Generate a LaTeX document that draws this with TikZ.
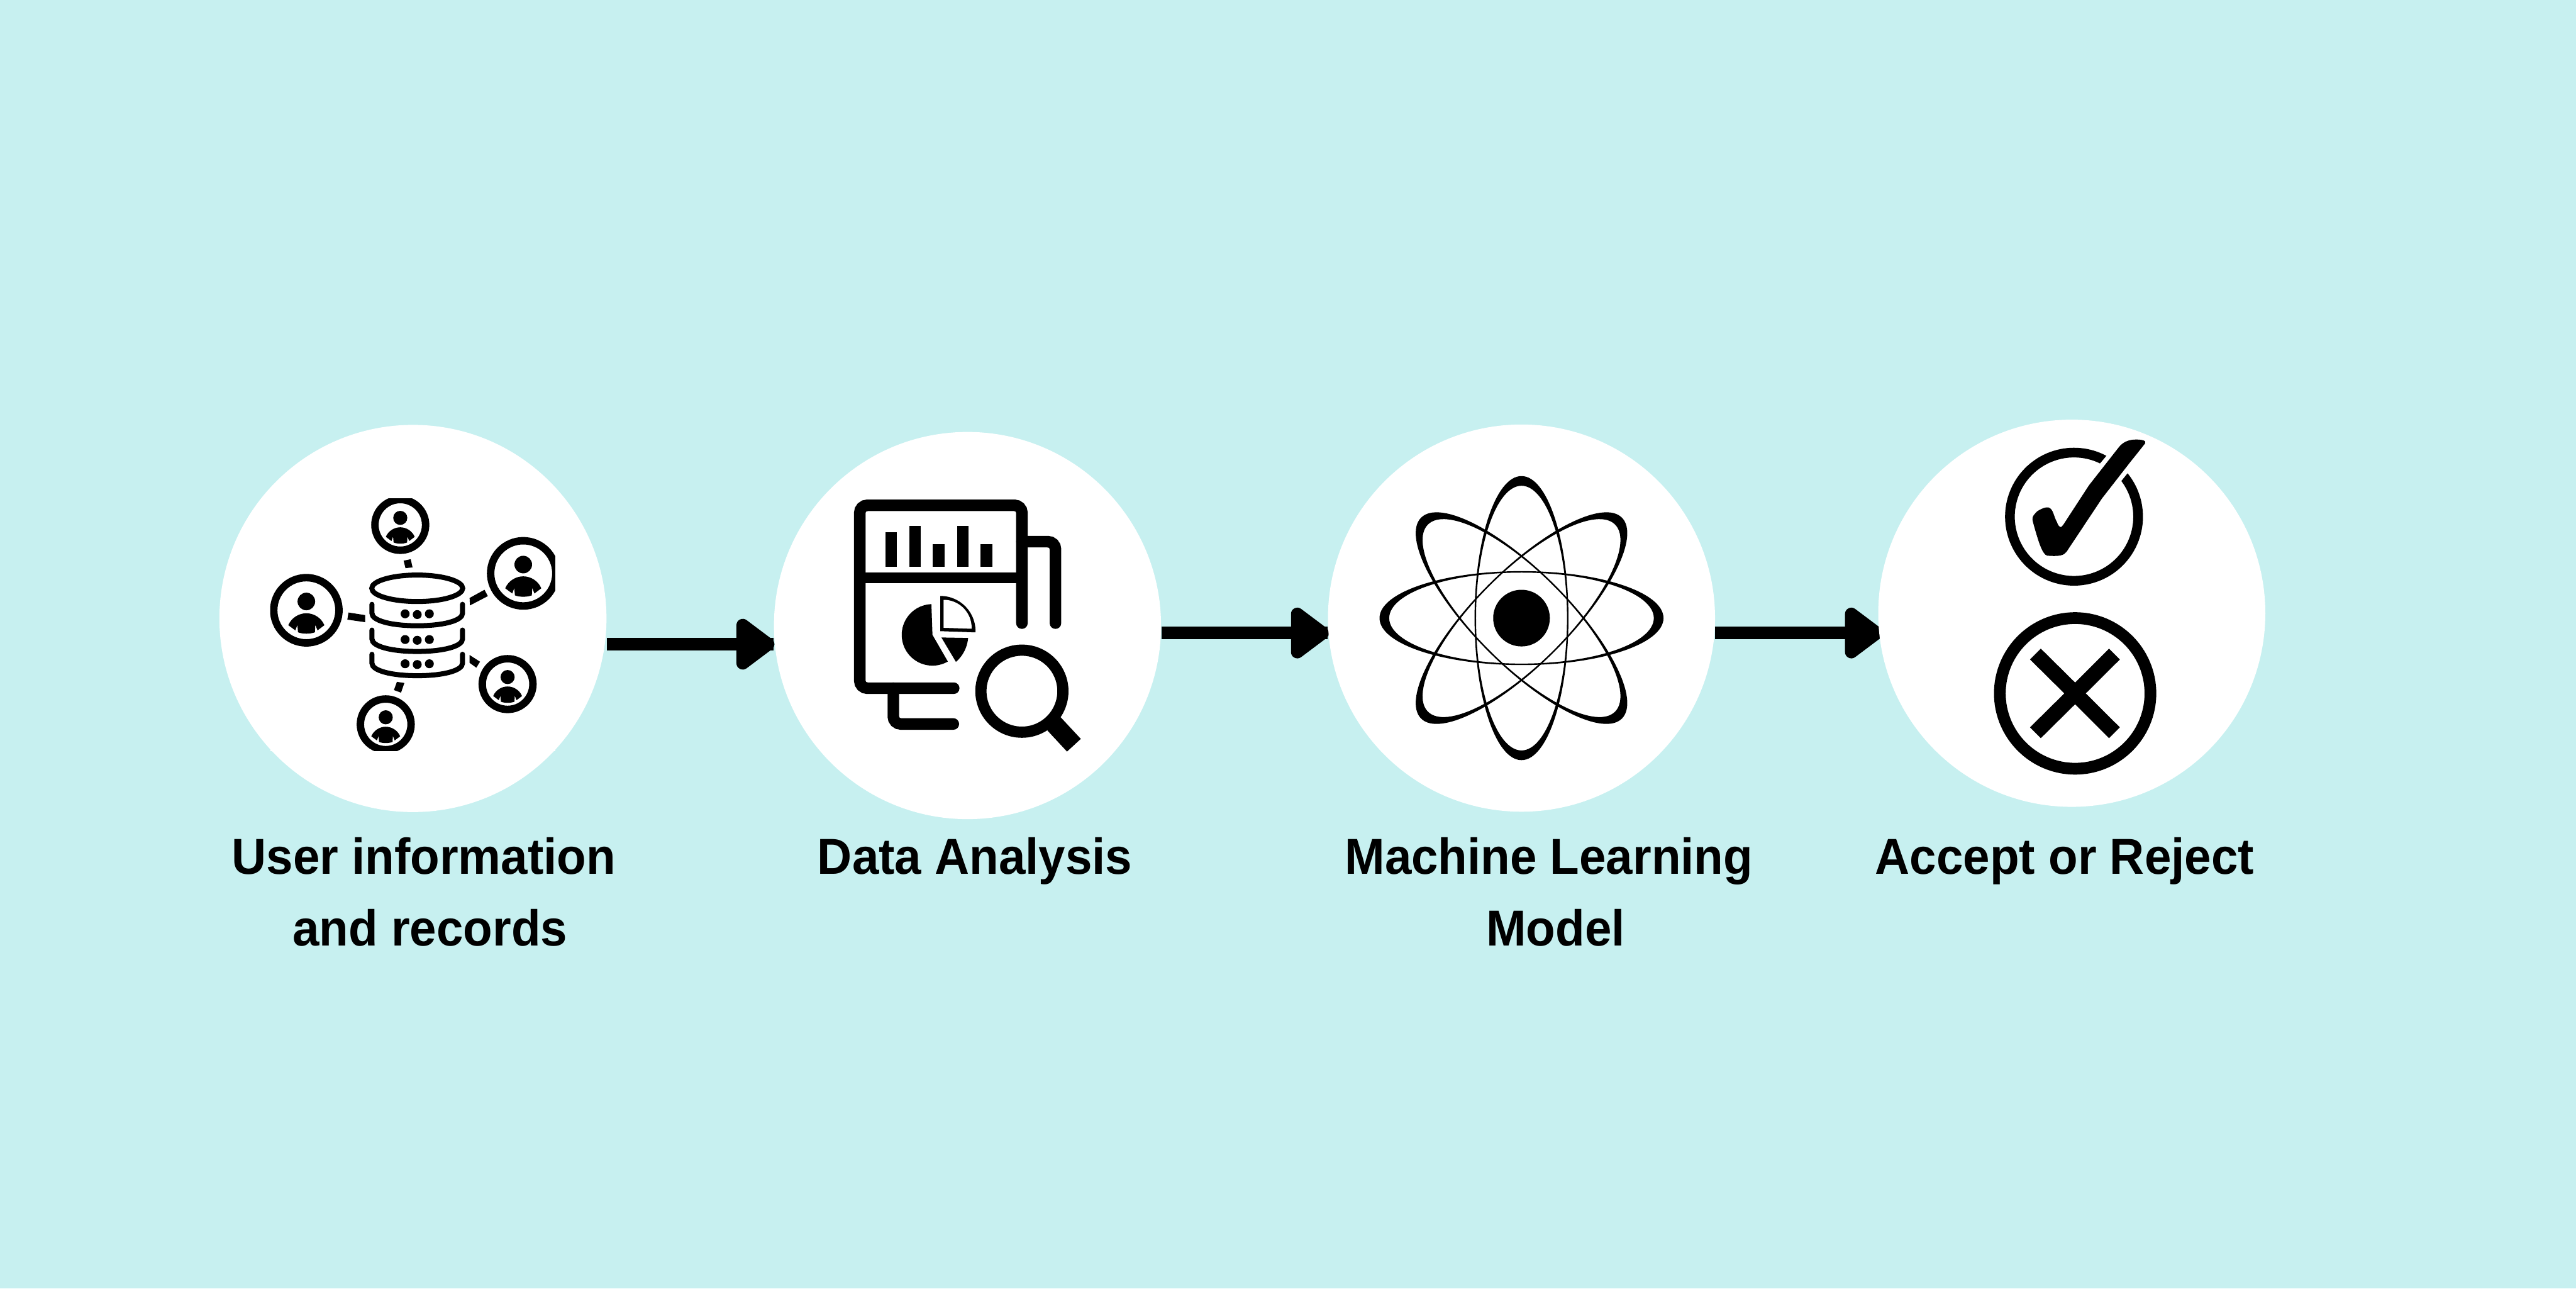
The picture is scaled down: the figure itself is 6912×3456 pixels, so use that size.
\documentclass[tikz,border=0pt]{standalone}
\usepackage{fontspec}
\setmainfont{Liberation Sans}[FakeStretch=0.95]
\usetikzlibrary{backgrounds,calc}
\definecolor{bgteal}{HTML}{C7F0F0}
\newcommand{\usericon}[3]{%
  \fill[black,even odd rule] (#1,#2) circle[radius=#3] (#1,#2) circle[radius={#3-20}];
  \begin{scope}[shift={(#1,#2)},scale={#3/97.5}]
    \fill[black] (0,-23.6) circle[radius=23.6];
    \fill[black] (0,8) .. controls (-20,8) and (-40,20) .. (-48.4,40) -- (-29.5,54) -- (-24,39) -- (-22.4,59)
      .. controls (-10,64) and (10,64) .. (23,59) -- (24,39) -- (30,54) -- (48.4,40)
      .. controls (40,20) and (20,8) .. (0,8) -- cycle;
  \end{scope}}
\newcommand{\dbtier}[1]{%
  \begin{scope}[shift={(0,#1)}]
    \draw[black,line width=0.135cm,line cap=round] (998,1621) -- (998,1645)
      .. controls (998,1665) and (1050,1678.5) .. (1119.5,1678.5)
      .. controls (1189,1678.5) and (1241,1665) .. (1241,1645) -- (1241,1621);
    \fill[black] (1087,1646.5) circle[radius=12] (1119.5,1648.5) circle[radius=12] (1152,1646.5) circle[radius=12];
  \end{scope}}
\newcommand{\orbit}[1]{%
  \fill[black,even odd rule,rotate around={#1:(4082.5,1658)}]
    (4082.5,1658) circle[x radius=381,y radius=126]
    (4082.5,1658) circle[x radius=355,y radius=122];}
\newcommand{\flowarrow}[3]{%
  \draw[arrowshaft] (#1.east |- 0,#3) -- (#2.west |- 0,#3);
  \begin{scope}[shift={(#1.east |- 0,#3)}]
    \filldraw[arrowhd] (365,-51) -- (433,0) -- (365,51) -- cycle;
  \end{scope}}
\tikzset{
  disc/.style={circle,fill=white,draw=none,inner sep=0pt,minimum size=10.38cm},
  labeltxt/.style={anchor=base,inner sep=0pt,text=black,font=\fontsize{38.55}{46}\selectfont\bfseries},
  arrowshaft/.style={black,line width=0.34cm},
  arrowhd/.style={black,fill=black,line width=0.34cm,line join=round},
  icoline/.style={black,line width=0.31cm,line cap=round,rounded corners=0.2cm}
}
\begin{document}
\begin{tikzpicture}[x=0.01cm,y=-0.01cm]
\useasboundingbox (0,0) rectangle (6912,3456);
% discs
\node[disc] (c1) at (1108,1659) {};
\node[disc] (c2) at (2596,1678) {};
\node[disc] (c3) at (4082.5,1658) {};
\node[disc] (c4) at (5559,1645) {};
% background and arrows, under the discs
\begin{scope}[on background layer]
  \fill[bgteal] (0,0) rectangle (6912,3456);
  \flowarrow{c1}{c2}{1728}
  \flowarrow{c2}{c3}{1698}
  \flowarrow{c3}{c4}{1698}
\end{scope}
% icon 1 : database and users
\fill[white] (725,1338) rectangle (1490,2014);
\begin{scope}
  \clip (725,1338) rectangle (1490,2014);
  \usericon{1074}{1408}{78}
  \usericon{1404}{1538}{97.5}
  \usericon{822}{1637}{97.5}
  \usericon{1362}{1835}{78}
  \usericon{1035}{1943}{78}
  \draw[black,line width=0.135cm] (1119.5,1578) circle[x radius=122,y radius=35.5];
  \dbtier{0}
  \dbtier{69}
  \dbtier{134}
  \fill[black] (1083,1504) -- (1102,1500) -- (1107,1522) -- (1088,1524) -- cycle;
  \fill[black] (1260,1604) -- (1300,1582) -- (1309,1599) -- (1261,1624) -- cycle;
  \fill[black] (935,1643) -- (980,1650) -- (980,1669) -- (932,1662) -- cycle;
  \fill[black] (1260,1757) -- (1288,1775) -- (1278,1791) -- (1260,1778) -- cycle;
  \fill[black] (1065,1829) -- (1085,1832) -- (1076,1858) -- (1057,1851) -- cycle;
\end{scope}
% icon 2 : report and magnifier
\draw[icoline] (2742,1671.5) -- (2742,1355.5) -- (2307,1355.5) -- (2307,1846) -- (2559,1846);
\draw[black,line width=0.29cm] (2307,1550) -- (2742,1550);
\draw[icoline] (2742,1453) -- (2832,1453) -- (2832,1671.5);
\draw[icoline] (2397,1846) -- (2397,1942) -- (2558,1942);
\fill[black] (2376,1428) rectangle (2406,1520);
\fill[black] (2440,1410) rectangle (2470.5,1520);
\fill[black] (2503,1459) rectangle (2535,1520);
\fill[black] (2567.5,1410) rectangle (2598,1520);
\fill[black] (2631,1459) rectangle (2662.5,1520);
\fill[black] (2502,1703) -- plot[domain=60:268,samples=60] ({2502+82.5*cos(\x)},{1703+82.5*sin(\x)}) -- cycle;
\fill[black] (2523,1693) -- plot[domain=-90:2,samples=40] ({2523+94.5*cos(\x)},{1693+94.5*sin(\x)}) -- cycle;
\fill[white] (2532,1684) -- plot[domain=-90:2,samples=40] ({2532+75*cos(\x)},{1684+75*sin(\x)}) -- cycle;
\fill[black] (2526,1710) -- plot[domain=5:49,samples=20] ({2502+96*cos(\x)},{1703+96*sin(\x)}) -- cycle;
\draw[black,line width=0.3cm] (2742,1854) circle[radius=110];
\fill[black] (2846,1924) -- (2900,1982) -- (2863,2016) -- (2810,1959) -- cycle;
% icon 3 : atom
\orbit{0}
\orbit{45}
\orbit{90}
\orbit{135}
\fill[black] (4082.5,1658) circle[radius=76];
% icon 4 : check and cross
\fill[black] plot[domain=-39:298,samples=120] ({5565+185*cos(\x)},{1386+185*sin(\x)})
  -- plot[domain=296:-37,samples=120] ({5565+159*cos(\x)},{1386+159*sin(\x)}) -- cycle;
\fill[black] (5731,1179) .. controls (5745,1179) and (5760,1181) .. (5756,1189)
  .. controls (5745,1203) and (5730,1222) .. (5717,1238) -- (5640,1337) -- (5545,1480)
  .. controls (5538,1490) and (5525,1493) .. (5493,1490.5)
  .. controls (5480,1487) and (5470,1455) .. (5455,1401)
  .. controls (5452,1390) and (5452,1385) .. (5467,1371)
  .. controls (5480,1363) and (5490,1360) .. (5496,1361)
  .. controls (5510,1365) and (5510,1385) .. (5519,1400)
  .. controls (5525,1417) and (5530,1417) .. (5536,1408)
  -- (5605,1302) -- (5685,1200)
  .. controls (5695,1187) and (5710,1179) .. (5731,1179) -- cycle;
\draw[black,line width=0.315cm] (5568,1860) circle[radius=202];
\fill[black] (5476,1740) -- (5568,1831) -- (5659,1740) -- (5688,1769) -- (5596.5,1860) -- (5688,1951)
  -- (5659,1980) -- (5568,1889) -- (5476,1980) -- (5447,1951) -- (5539,1860) -- (5447,1769) -- cycle;
% labels
\node[labeltxt] (l1a) at (1137,2345) {User information};
\node[labeltxt] (l1b) at (1154,2537) {and records};
\node[labeltxt] (l2) at (2616,2345) {Data Analysis};
\node[labeltxt] (l3a) at (4156,2345) {Machine Learning};
\node[labeltxt] (l3b) at (4174,2537) {Model};
\node[labeltxt] (l4) at (5540,2345) {Accept or Reject};
\end{tikzpicture}
\end{document}
